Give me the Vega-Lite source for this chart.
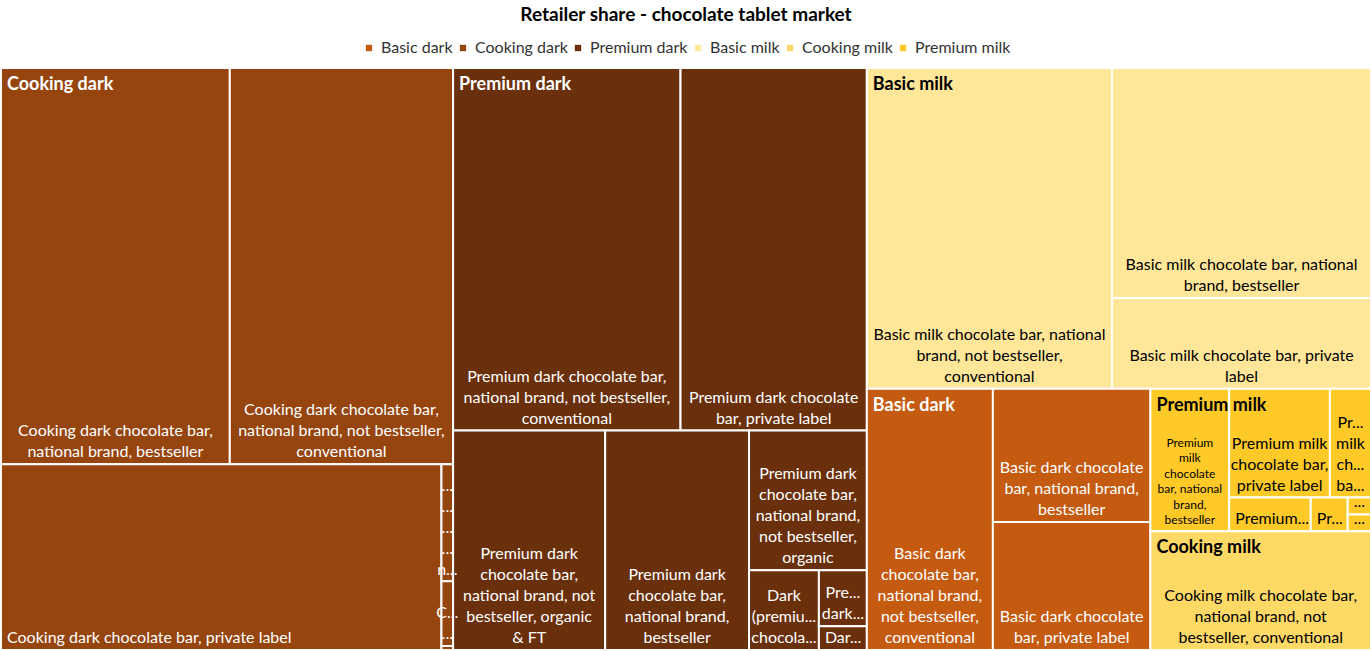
{
  "$schema": "https://vega.github.io/schema/vega-lite/v6.json",
  "width": 1372,
  "height": 651,
  "autosize": {"type": "fit", "contains": "padding"},
  "padding": {"top": 6, "left": 0, "right": 0, "bottom": 0},
  "background": "#ffffff",
  "title": {
    "text": "Retailer share - chocolate tablet market",
    "font": "Lato",
    "fontSize": 19,
    "fontWeight": "bold",
    "color": "#000000",
    "anchor": "middle",
    "offset": 15
  },
  "config": {
    "view": {"stroke": null},
    "legend": {"layout": {"top": {"anchor": "middle"}}}
  },
  "data": {
    "values": [
      {"group": "Cooking dark", "leaf": "Cooking dark chocolate bar, national brand, bestseller", "label": "Cooking dark chocolate bar,\nnational brand, bestseller", "x0": 0, "x1": 16.7, "y0": 0, "y1": 68.1},
      {"group": "Cooking dark", "leaf": "Cooking dark chocolate bar, national brand, not bestseller, conventional", "label": "Cooking dark chocolate bar,\nnational brand, not bestseller,\nconventional", "x0": 16.7, "x1": 33.0, "y0": 0, "y1": 68.1},
      {"group": "Cooking dark", "leaf": "Cooking dark chocolate bar, private label", "label": "Cooking dark chocolate bar, private label", "x0": 0, "x1": 32.15, "y0": 68.1, "y1": 100},
      {"group": "Cooking dark", "leaf": "Cooking dark chocolate bar, national brand, not bestseller, organic", "label": "...\n...\n...\n...\nn...", "x0": 32.15, "x1": 33.0, "y0": 68.1, "y1": 88.2},
      {"group": "Cooking dark", "leaf": "Cooking dark chocolate bar, national brand, not bestseller, organic & FT", "label": "C...\n...", "x0": 32.15, "x1": 33.0, "y0": 88.2, "y1": 99.3},
      {"group": "Cooking dark", "leaf": "Cooking dark chocolate, other", "label": "", "x0": 32.15, "x1": 33.0, "y0": 99.3, "y1": 100},
      {"group": "Premium dark", "leaf": "Premium dark chocolate bar, national brand, not bestseller, conventional", "label": "Premium dark chocolate bar,\nnational brand, not bestseller,\nconventional", "x0": 33.0, "x1": 49.6, "y0": 0, "y1": 62.3},
      {"group": "Premium dark", "leaf": "Premium dark chocolate bar, private label", "label": "Premium dark chocolate\nbar, private label", "x0": 49.6, "x1": 63.2, "y0": 0, "y1": 62.3},
      {"group": "Premium dark", "leaf": "Premium dark chocolate bar, national brand, not bestseller, organic & FT", "label": "Premium dark\nchocolate bar,\nnational brand, not\nbestseller, organic\n& FT", "x0": 33.0, "x1": 44.1, "y0": 62.3, "y1": 100},
      {"group": "Premium dark", "leaf": "Premium dark chocolate bar, national brand, bestseller", "label": "Premium dark\nchocolate bar,\nnational brand,\nbestseller", "x0": 44.1, "x1": 54.6, "y0": 62.3, "y1": 100},
      {"group": "Premium dark", "leaf": "Premium dark chocolate bar, national brand, not bestseller, organic", "label": "Premium dark\nchocolate bar,\nnational brand,\nnot bestseller,\norganic", "x0": 54.6, "x1": 63.2, "y0": 62.3, "y1": 86.3},
      {"group": "Premium dark", "leaf": "Dark (premium) chocolate", "label": "Dark\n(premiu...\nchocola...", "x0": 54.6, "x1": 59.7, "y0": 86.3, "y1": 100},
      {"group": "Premium dark", "leaf": "Premium dark chocolate, other", "label": "Pre...\ndark...", "x0": 59.7, "x1": 63.2, "y0": 86.3, "y1": 95.9},
      {"group": "Premium dark", "leaf": "Dark chocolate, other", "label": "Dar...", "x0": 59.7, "x1": 63.2, "y0": 95.9, "y1": 100},
      {"group": "Basic milk", "leaf": "Basic milk chocolate bar, national brand, not bestseller, conventional", "label": "Basic milk chocolate bar, national\nbrand, not bestseller,\nconventional", "x0": 63.2, "x1": 81.1, "y0": 0, "y1": 55.1},
      {"group": "Basic milk", "leaf": "Basic milk chocolate bar, national brand, bestseller", "label": "Basic milk chocolate bar, national\nbrand, bestseller", "x0": 81.1, "x1": 100, "y0": 0, "y1": 39.5},
      {"group": "Basic milk", "leaf": "Basic milk chocolate bar, private label", "label": "Basic milk chocolate bar, private\nlabel", "x0": 81.1, "x1": 100, "y0": 39.5, "y1": 55.1},
      {"group": "Basic dark", "leaf": "Basic dark chocolate bar, national brand, not bestseller, conventional", "label": "Basic dark\nchocolate bar,\nnational brand,\nnot bestseller,\nconventional", "x0": 63.2, "x1": 72.4, "y0": 55.1, "y1": 100},
      {"group": "Basic dark", "leaf": "Basic dark chocolate bar, national brand, bestseller", "label": "Basic dark chocolate\nbar, national brand,\nbestseller", "x0": 72.4, "x1": 83.9, "y0": 55.1, "y1": 78.0},
      {"group": "Basic dark", "leaf": "Basic dark chocolate bar, private label", "label": "Basic dark chocolate\nbar, private label", "x0": 72.4, "x1": 83.9, "y0": 78.0, "y1": 100},
      {"group": "Premium milk", "leaf": "Premium milk chocolate bar, national brand, bestseller", "label": "Premium\nmilk\nchocolate\nbar, national\nbrand,\nbestseller", "x0": 83.9, "x1": 89.65, "y0": 55.1, "y1": 79.6},
      {"group": "Premium milk", "leaf": "Premium milk chocolate bar, private label", "label": "Premium milk\nchocolate bar,\nprivate label", "x0": 89.65, "x1": 97.0, "y0": 55.1, "y1": 73.8},
      {"group": "Premium milk", "leaf": "Premium milk chocolate bar, national brand, not bestseller", "label": "Pr...\nmilk\nch...\nba...", "x0": 97.0, "x1": 100, "y0": 55.1, "y1": 73.8},
      {"group": "Premium milk", "leaf": "Premium milk chocolate, other", "label": "Premium...", "x0": 89.65, "x1": 95.6, "y0": 73.8, "y1": 79.6},
      {"group": "Premium milk", "leaf": "Premium milk, other 2", "label": "Pr...", "x0": 95.6, "x1": 98.3, "y0": 73.8, "y1": 79.6},
      {"group": "Premium milk", "leaf": "Premium milk, other 3", "label": "...", "x0": 98.3, "x1": 100, "y0": 73.8, "y1": 76.7},
      {"group": "Premium milk", "leaf": "Premium milk, other 4", "label": "...", "x0": 98.3, "x1": 100, "y0": 76.7, "y1": 79.6},
      {"group": "Cooking milk", "leaf": "Cooking milk chocolate bar, national brand, not bestseller, conventional", "label": "Cooking milk chocolate bar,\nnational brand, not\nbestseller, conventional", "x0": 83.9, "x1": 100, "y0": 79.6, "y1": 100}
    ]
  },
  "transform": [
    {"calculate": "(datum.x0 + datum.x1) / 2", "as": "xm"},
    {"calculate": "indexof(datum.group, 'milk') >= 0", "as": "light"},
    {"calculate": "length(split(datum.label, '\\n'))", "as": "nl"},
    {"calculate": "indexof(datum.label, 'Premium\\nmilk') >= 0", "as": "small"},
    {"calculate": "datum.y1 - (datum.nl - 1) * (datum.small ? 2.66 : 3.6)", "as": "yl"}
  ],
  "encoding": {
    "x": {"type": "quantitative", "scale": {"domain": [0, 100], "nice": false, "zero": false}, "axis": null},
    "y": {"type": "quantitative", "scale": {"domain": [0, 100], "nice": false, "zero": false, "reverse": true}, "axis": null}
  },
  "layer": [
    {
      "mark": {"type": "rect", "stroke": "#ffffff", "strokeWidth": 2},
      "encoding": {
        "x": {"field": "x0", "type": "quantitative"},
        "x2": {"field": "x1"},
        "y": {"field": "y0", "type": "quantitative"},
        "y2": {"field": "y1"},
        "color": {
          "field": "group",
          "type": "nominal",
          "scale": {
            "domain": ["Basic dark", "Cooking dark", "Premium dark", "Basic milk", "Cooking milk", "Premium milk"],
            "range": ["#C55A11", "#96450F", "#6A300C", "#FFE699", "#FFD966", "#FFCA28"]
          },
          "legend": {
            "title": null,
            "orient": "top",
            "direction": "horizontal",
            "symbolType": "square",
            "symbolSize": 40,
            "symbolStrokeWidth": 0,
            "labelFont": "Lato",
            "labelFontSize": 16,
            "labelColor": "#333333",
            "columnPadding": 2,
            "labelOffset": 4,
            "offset": 12
          }
        },
        "tooltip": [{"field": "group"}, {"field": "leaf"}]
      }
    },
    {
      "transform": [{"filter": "datum.nl > 1 && !datum.small"}],
      "mark": {"type": "text", "align": "center", "baseline": "bottom", "lineBreak": "\n", "lineHeight": 21, "font": "Lato", "fontSize": 16, "dy": -4},
      "encoding": {
        "x": {"field": "xm", "type": "quantitative"},
        "y": {"field": "yl", "type": "quantitative"},
        "text": {"field": "label"},
        "color": {"condition": {"test": "datum.light", "value": "#000000"}, "value": "#ffffff"}
      }
    },
    {
      "transform": [{"filter": "datum.small"}],
      "mark": {"type": "text", "align": "center", "baseline": "bottom", "lineBreak": "\n", "lineHeight": 15.5, "font": "Lato", "fontSize": 12, "dy": -4},
      "encoding": {
        "x": {"field": "xm", "type": "quantitative"},
        "y": {"field": "yl", "type": "quantitative"},
        "text": {"field": "label"},
        "color": {"value": "#000000"}
      }
    },
    {
      "transform": [{"filter": "datum.label != '' && datum.nl == 1"}],
      "mark": {"type": "text", "align": "left", "baseline": "bottom", "font": "Lato", "fontSize": 16, "dx": 6, "dy": -4},
      "encoding": {
        "x": {"field": "x0", "type": "quantitative"},
        "y": {"field": "y1", "type": "quantitative"},
        "text": {"field": "label"},
        "color": {"condition": {"test": "datum.light", "value": "#000000"}, "value": "#ffffff"}
      }
    },
    {
      "transform": [
        {"aggregate": [{"op": "min", "field": "x0", "as": "gx"}, {"op": "min", "field": "y0", "as": "gy"}], "groupby": ["group"]},
        {"calculate": "indexof(datum.group, 'milk') >= 0", "as": "light"}
      ],
      "mark": {"type": "text", "align": "left", "baseline": "top", "font": "Lato", "fontSize": 18, "fontWeight": "bold", "dx": 6, "dy": 8},
      "encoding": {
        "x": {"field": "gx", "type": "quantitative"},
        "y": {"field": "gy", "type": "quantitative"},
        "text": {"field": "group"},
        "color": {"condition": {"test": "datum.light", "value": "#000000"}, "value": "#ffffff"}
      }
    }
  ]
}
